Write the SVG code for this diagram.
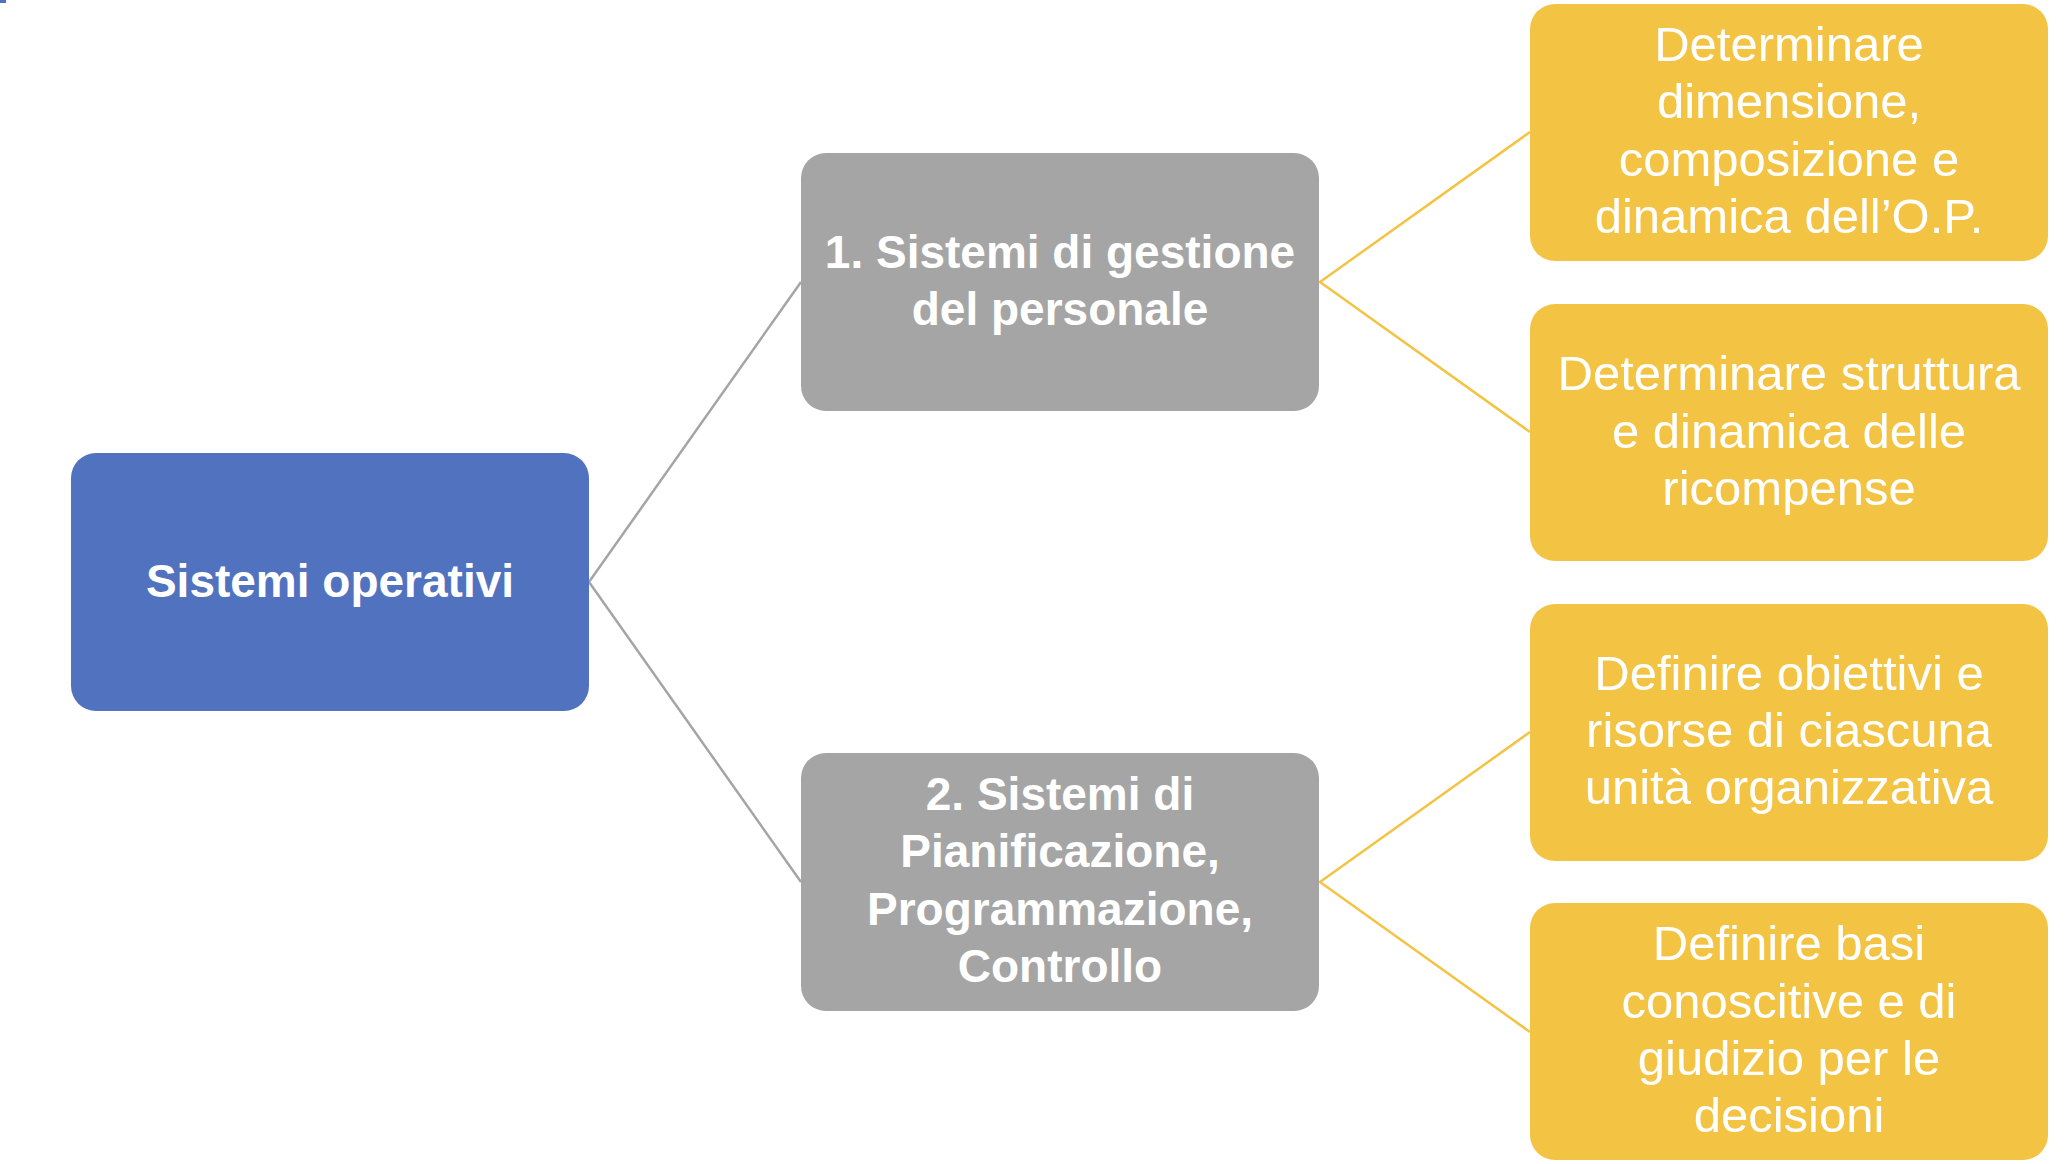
<svg xmlns="http://www.w3.org/2000/svg" width="2070" height="1164" viewBox="0 0 2070 1164">
<style>
.box{stroke:none}
.root{fill:#5172BE}
.mid{fill:#A5A5A5}
.leaf{fill:#F3C444}
.tb{font-family:"Liberation Sans",Arial,sans-serif;font-weight:bold;font-size:46px;fill:#FFFFFF;text-anchor:middle}
.tr{font-family:"Liberation Sans",Arial,sans-serif;font-size:49px;fill:#FFFFFF;text-anchor:middle}
.cg{stroke:#A5A5A5;stroke-width:2.5;fill:none}
.cy{stroke:#F3C444;stroke-width:2.5;fill:none}
</style>
<rect x="0" y="0" width="2070" height="1164" fill="#FFFFFF"/>
<rect x="0" y="0" width="6" height="3" fill="#5172BE"/>
<g id="connectors">
<polyline class="cg" points="801,282 589,582 801,882"/>
<polyline class="cy" points="1530,132 1320,282 1530,432"/>
<polyline class="cy" points="1530,732 1320,882 1530,1032"/>
</g>
<g id="node-root">
<rect class="box root" x="71" y="453" width="518" height="258" rx="25"/>
<text class="tb" x="330" y="597">Sistemi operativi</text>
</g>
<g id="node-gestione">
<rect class="box mid" x="801" y="153" width="518" height="258" rx="25"/>
<text class="tb" x="1060" y="268">1. Sistemi di gestione</text>
<text class="tb" x="1060" y="325">del personale</text>
</g>
<g id="node-pianificazione">
<rect class="box mid" x="801" y="753" width="518" height="258" rx="25"/>
<text class="tb" x="1060" y="810">2. Sistemi di</text>
<text class="tb" x="1060" y="867">Pianificazione,</text>
<text class="tb" x="1060" y="925">Programmazione,</text>
<text class="tb" x="1060" y="982">Controllo</text>
</g>
<g id="node-leaf1">
<rect class="box leaf" x="1530" y="4" width="518" height="257" rx="25"/>
<text class="tr" x="1789" y="61">Determinare</text>
<text class="tr" x="1789" y="118">dimensione,</text>
<text class="tr" x="1789" y="176">composizione e</text>
<text class="tr" x="1789" y="233">dinamica dell’O.P.</text>
</g>
<g id="node-leaf2">
<rect class="box leaf" x="1530" y="304" width="518" height="257" rx="25"/>
<text class="tr" x="1789" y="390">Determinare struttura</text>
<text class="tr" x="1789" y="448">e dinamica delle</text>
<text class="tr" x="1789" y="505">ricompense</text>
</g>
<g id="node-leaf3">
<rect class="box leaf" x="1530" y="604" width="518" height="257" rx="25"/>
<text class="tr" x="1789" y="690">Definire obiettivi e</text>
<text class="tr" x="1789" y="747">risorse di ciascuna</text>
<text class="tr" x="1789" y="804">unità organizzativa</text>
</g>
<g id="node-leaf4">
<rect class="box leaf" x="1530" y="903" width="518" height="257" rx="25"/>
<text class="tr" x="1789" y="960">Definire basi</text>
<text class="tr" x="1789" y="1018">conoscitive e di</text>
<text class="tr" x="1789" y="1075">giudizio per le</text>
<text class="tr" x="1789" y="1132">decisioni</text>
</g>
</svg>
